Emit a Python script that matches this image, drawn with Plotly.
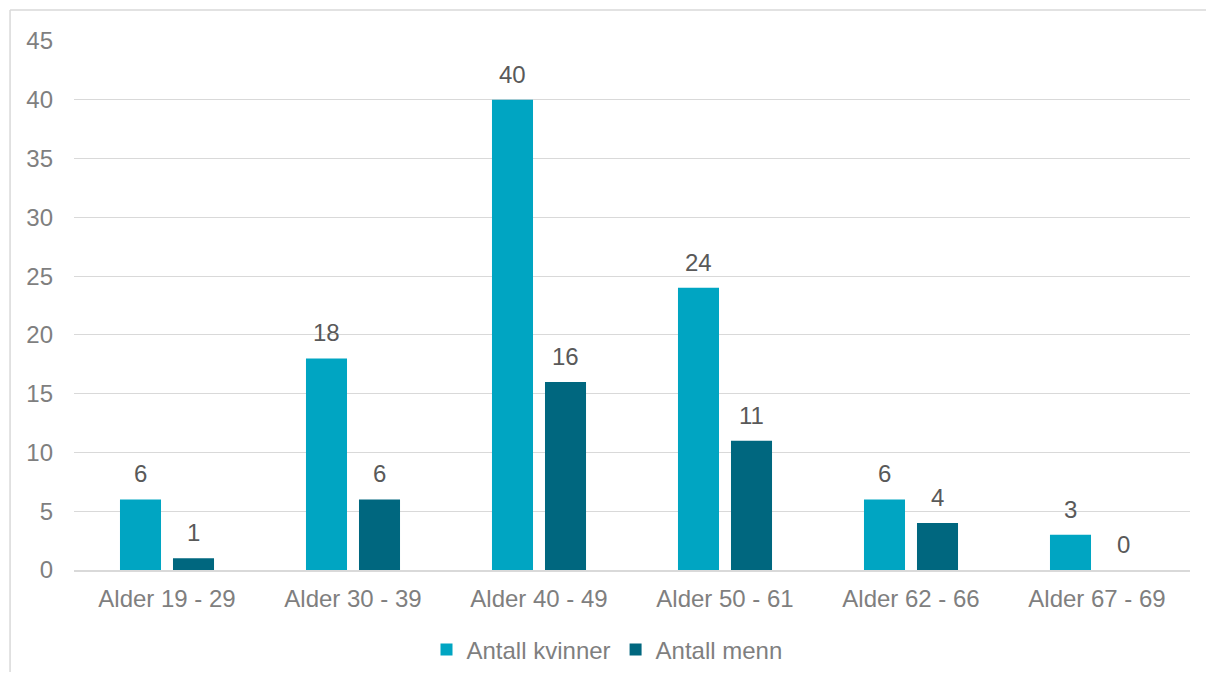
import plotly.graph_objects as go

categories = ["Alder 19 - 29", "Alder 30 - 39", "Alder 40 - 49", "Alder 50 - 61", "Alder 62 - 66", "Alder 67 - 69"]
kvinner = [6, 18, 40, 24, 6, 3]
menn = [1, 6, 16, 11, 4, 0]
y_ticks = [0, 5, 10, 15, 20, 25, 30, 35, 40, 45]

FONT = "Liberation Sans, Arial, sans-serif"
FS = 24
C_LIGHT = "#00A5C2"
C_DARK = "#00677F"
LABEL_COLOR = "#595959"
TICK_COLOR = "#7F7F7F"
FRAME = "#D9D9D9"

fig = go.Figure()
fig.add_trace(go.Bar(x=categories, y=kvinner, name="Antall kvinner",
                     marker=dict(color=C_LIGHT, line=dict(width=0))))
fig.add_trace(go.Bar(x=categories, y=menn, name="Antall menn",
                     marker=dict(color=C_DARK, line=dict(width=0))))

annotations = []
for series, shift in ((kvinner, -26.5), (menn, 26.5)):
    for cat, val in zip(categories, series):
        annotations.append(dict(x=cat, y=val, xref="x", yref="y", text=str(val),
                                showarrow=False, xshift=shift, yanchor="bottom",
                                yshift=10, font=dict(family=FONT, size=FS, color=LABEL_COLOR)))

fig.update_layout(
    width=1198, height=664,
    margin=dict(l=66, r=16, t=33, b=102, autoexpand=False),
    paper_bgcolor="white", plot_bgcolor="white",
    barmode="group", bargap=0.43, bargroupgap=0.226,
    font=dict(family=FONT, size=FS, color=TICK_COLOR),
    showlegend=True,
    legend=dict(orientation="h", x=0.4776, xanchor="center",
                yref="container", y=0.0331, yanchor="middle",
                font=dict(family=FONT, size=FS, color=TICK_COLOR),
                itemwidth=30),
    annotations=annotations,
    shapes=[
        dict(type="line", xref="paper", yref="paper", x0=-0.0573, x1=1.02,
             y0=1.0586, y1=1.0586, line=dict(color=FRAME, width=1.5), layer="below"),
        dict(type="line", xref="paper", yref="paper", x0=-0.0573, x1=-0.0573,
             y0=-0.2, y1=1.0586, line=dict(color=FRAME, width=1.5), layer="below"),
    ],
)
fig.update_xaxes(showgrid=False, showline=True, linecolor=FRAME, linewidth=1.5,
                 ticks="", ticklabelstandoff=6,
                 tickfont=dict(family=FONT, size=FS, color=TICK_COLOR))
fig.update_yaxes(range=[0, 45], tickvals=y_ticks, showgrid=True, gridcolor=FRAME,
                 gridwidth=1.2, zeroline=False, showline=False, ticks="",
                 ticklabelstandoff=20,
                 tickfont=dict(family=FONT, size=FS, color=TICK_COLOR))

fig.write_html("out.html")
